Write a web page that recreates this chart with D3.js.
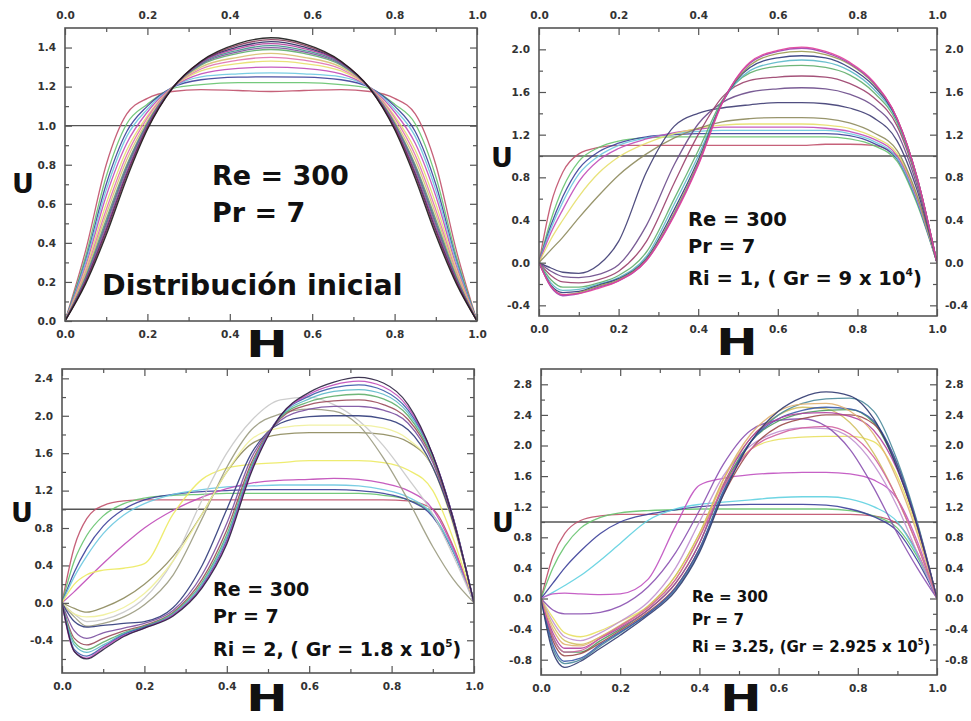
<!DOCTYPE html>
<html>
<head>
<meta charset="utf-8">
<script src="https://cdn.jsdelivr.net/npm/d3@7"></script>
<style>
  body { margin: 0; background: #fff; }
  svg { display: block; }
  .tick text { font-family: "DejaVu Sans", sans-serif; font-weight: bold; font-size: 10.5px; fill: #333; }
  .tick line { stroke: #555; stroke-width: 1.2; }
  .lbl { font-family: "DejaVu Sans", sans-serif; font-weight: bold; fill: #111; }
</style>
</head>
<body>
<div id="chart"></div>
<script>
// ---- data ----
// H positions where U was read (panel "Distribución inicial")
const hGridInitial = [0, 0.05, 0.1, 0.15, 0.2, 0.26, 0.33, 0.42, 0.5, 0.58, 0.67, 0.74, 0.8, 0.85, 0.9, 0.95, 1.0];
// H positions for the three mixed-convection panels
const hGrid = [0, 0.03, 0.06, 0.1, 0.15, 0.2, 0.27, 0.34, 0.4, 0.46, 0.53, 0.6, 0.66, 0.72, 0.78, 0.84, 0.9, 0.95, 1.0];

const uInitial = [
  [0, 0.36, 0.80, 1.06, 1.14, 1.175, 1.185, 1.18, 1.175, 1.18, 1.185, 1.175, 1.14, 1.06, 0.80, 0.36, 0],
  [0, 0.33, 0.74, 1.01, 1.11, 1.19, 1.21, 1.22, 1.22, 1.22, 1.21, 1.19, 1.11, 1.01, 0.74, 0.33, 0],
  [0, 0.31, 0.70, 0.97, 1.10, 1.195, 1.235, 1.248, 1.25, 1.248, 1.235, 1.195, 1.10, 0.97, 0.70, 0.31, 0],
  [0, 0.30, 0.67, 0.945, 1.085, 1.195, 1.25, 1.265, 1.27, 1.265, 1.25, 1.195, 1.085, 0.945, 0.67, 0.30, 0],
  [0, 0.28, 0.64, 0.91, 1.07, 1.195, 1.265, 1.293, 1.30, 1.293, 1.265, 1.195, 1.07, 0.91, 0.64, 0.28, 0],
  [0, 0.265, 0.60, 0.875, 1.05, 1.195, 1.28, 1.318, 1.33, 1.318, 1.28, 1.195, 1.05, 0.875, 0.60, 0.265, 0],
  [0, 0.25, 0.57, 0.85, 1.04, 1.195, 1.29, 1.335, 1.35, 1.335, 1.29, 1.195, 1.04, 0.85, 0.57, 0.25, 0],
  [0, 0.24, 0.545, 0.825, 1.025, 1.195, 1.30, 1.35, 1.37, 1.35, 1.30, 1.195, 1.025, 0.825, 0.545, 0.24, 0],
  [0, 0.227, 0.52, 0.80, 1.015, 1.193, 1.31, 1.37, 1.39, 1.37, 1.31, 1.193, 1.015, 0.80, 0.52, 0.227, 0],
  [0, 0.22, 0.505, 0.79, 1.01, 1.193, 1.315, 1.378, 1.40, 1.378, 1.315, 1.193, 1.01, 0.79, 0.505, 0.22, 0],
  [0, 0.215, 0.494, 0.78, 1.004, 1.192, 1.318, 1.386, 1.41, 1.386, 1.318, 1.192, 1.004, 0.78, 0.494, 0.215, 0],
  [0, 0.209, 0.48, 0.766, 0.998, 1.191, 1.322, 1.395, 1.42, 1.395, 1.322, 1.191, 0.998, 0.766, 0.48, 0.209, 0],
  [0, 0.202, 0.465, 0.753, 0.991, 1.19, 1.326, 1.403, 1.43, 1.403, 1.326, 1.19, 0.991, 0.753, 0.465, 0.202, 0],
  [0, 0.197, 0.454, 0.743, 0.986, 1.19, 1.328, 1.412, 1.44, 1.412, 1.328, 1.19, 0.986, 0.743, 0.454, 0.197, 0],
  [0, 0.19, 0.44, 0.73, 0.98, 1.19, 1.33, 1.42, 1.45, 1.42, 1.33, 1.19, 0.98, 0.73, 0.44, 0.19, 0]
];

const uRi1 = [
  [0, 0.55, 0.85, 1.02, 1.08, 1.1, 1.1, 1.1, 1.1, 1.1, 1.1, 1.1, 1.1, 1.11, 1.11, 1.1, 1.0, 0.6, 0],
  [0, 0.4, 0.7, 0.95, 1.08, 1.14, 1.17, 1.18, 1.18, 1.18, 1.18, 1.18, 1.18, 1.18, 1.16, 1.1, 0.95, 0.55, 0],
  [0, 0.35, 0.62, 0.88, 1.04, 1.12, 1.18, 1.2, 1.21, 1.21, 1.21, 1.21, 1.21, 1.21, 1.19, 1.12, 0.97, 0.57, 0],
  [0, 0.32, 0.57, 0.83, 1.0, 1.1, 1.17, 1.21, 1.23, 1.24, 1.24, 1.24, 1.24, 1.24, 1.21, 1.14, 0.98, 0.58, 0],
  [0, 0.28, 0.5, 0.76, 0.96, 1.07, 1.16, 1.22, 1.25, 1.27, 1.27, 1.27, 1.27, 1.26, 1.23, 1.16, 1.0, 0.6, 0],
  [0, 0.22, 0.4, 0.62, 0.84, 0.99, 1.12, 1.21, 1.26, 1.29, 1.3, 1.3, 1.3, 1.29, 1.26, 1.18, 1.02, 0.62, 0],
  [0, 0.12, 0.24, 0.42, 0.63, 0.82, 1.02, 1.17, 1.26, 1.32, 1.35, 1.36, 1.36, 1.35, 1.31, 1.22, 1.05, 0.63, 0],
  [0, -0.05, -0.09, -0.1, -0.02, 0.2, 0.85, 1.28, 1.4, 1.45, 1.48, 1.5, 1.5, 1.49, 1.45, 1.36, 1.14, 0.68, 0],
  [0, -0.08, -0.13, -0.14, -0.11, -0.02, 0.35, 0.92, 1.3, 1.5, 1.6, 1.63, 1.64, 1.63, 1.58, 1.47, 1.22, 0.72, 0],
  [0, -0.12, -0.18, -0.19, -0.16, -0.08, 0.2, 0.75, 1.2, 1.55, 1.71, 1.74, 1.75, 1.74, 1.68, 1.55, 1.28, 0.76, 0],
  [0, -0.16, -0.23, -0.23, -0.19, -0.12, 0.1, 0.6, 1.05, 1.52, 1.78, 1.84, 1.85, 1.83, 1.76, 1.6, 1.31, 0.78, 0],
  [0, -0.19, -0.26, -0.25, -0.2, -0.14, 0.06, 0.55, 1.0, 1.5, 1.8, 1.88, 1.9, 1.88, 1.8, 1.63, 1.33, 0.79, 0],
  [0, -0.21, -0.28, -0.27, -0.21, -0.15, 0.04, 0.5, 0.96, 1.5, 1.83, 1.92, 1.94, 1.92, 1.83, 1.66, 1.34, 0.8, 0],
  [0, -0.22, -0.3, -0.28, -0.22, -0.16, 0.03, 0.47, 0.94, 1.5, 1.85, 1.96, 1.98, 1.95, 1.86, 1.68, 1.35, 0.8, 0],
  [0, -0.23, -0.31, -0.29, -0.23, -0.17, 0.02, 0.45, 0.92, 1.5, 1.87, 1.98, 2.01, 1.97, 1.87, 1.69, 1.35, 0.8, 0],
  [0, -0.22, -0.3, -0.29, -0.24, -0.17, 0.02, 0.44, 0.91, 1.49, 1.88, 1.99, 2.02, 1.98, 1.88, 1.7, 1.35, 0.8, 0]
];

const uRi2 = [
  [0, 0.6, 0.9, 1.04, 1.09, 1.1, 1.1, 1.1, 1.1, 1.1, 1.1, 1.1, 1.1, 1.1, 1.1, 1.09, 1.0, 0.6, 0],
  [0, 0.45, 0.72, 0.93, 1.06, 1.12, 1.15, 1.16, 1.17, 1.17, 1.17, 1.17, 1.17, 1.17, 1.15, 1.1, 0.94, 0.55, 0],
  [0, 0.33, 0.58, 0.82, 1.0, 1.1, 1.16, 1.19, 1.2, 1.21, 1.21, 1.21, 1.21, 1.2, 1.17, 1.1, 0.92, 0.54, 0],
  [0, 0.28, 0.5, 0.74, 0.94, 1.06, 1.16, 1.21, 1.24, 1.25, 1.26, 1.26, 1.26, 1.25, 1.21, 1.13, 0.94, 0.55, 0],
  [0, 0.12, 0.25, 0.42, 0.62, 0.8, 0.99, 1.13, 1.22, 1.28, 1.31, 1.32, 1.33, 1.32, 1.28, 1.2, 1.0, 0.58, 0],
  [0, 0.2, 0.3, 0.35, 0.37, 0.42, 0.95, 1.32, 1.44, 1.48, 1.5, 1.52, 1.52, 1.52, 1.5, 1.42, 1.2, 0.68, 0],
  [0, -0.06, -0.1, -0.05, 0.05, 0.2, 0.5, 0.95, 1.4, 1.7, 1.8, 1.82, 1.82, 1.82, 1.8, 1.72, 1.45, 0.85, 0],
  [0, -0.12, -0.2, -0.18, -0.1, 0.05, 0.45, 1.1, 1.6, 1.95, 2.17, 2.2, 2.12, 1.95, 1.68, 1.33, 0.95, 0.5, 0],
  [0, -0.15, -0.25, -0.22, -0.15, -0.02, 0.3, 0.9, 1.45, 1.85, 2.02, 2.07, 2.05, 1.9, 1.55, 1.1, 0.6, 0.25, 0],
  [0, -0.12, -0.15, -0.13, -0.05, 0.1, 0.45, 0.95, 1.4, 1.75, 1.87, 1.9, 1.9, 1.9, 1.87, 1.75, 1.45, 0.82, 0],
  [0, -0.2, -0.26, -0.24, -0.22, -0.2, -0.05, 0.4, 1.0, 1.6, 1.92, 1.99, 2.0, 2.0, 1.97, 1.85, 1.45, 0.85, 0],
  [0, -0.3, -0.38, -0.32, -0.27, -0.22, -0.08, 0.3, 0.85, 1.55, 1.95, 2.07, 2.1, 2.1, 2.06, 1.92, 1.5, 0.87, 0],
  [0, -0.38, -0.45, -0.38, -0.3, -0.24, -0.1, 0.25, 0.78, 1.5, 1.97, 2.12, 2.16, 2.17, 2.12, 1.96, 1.53, 0.88, 0],
  [0, -0.42, -0.5, -0.42, -0.32, -0.25, -0.11, 0.22, 0.73, 1.47, 1.98, 2.15, 2.21, 2.23, 2.18, 2.0, 1.55, 0.9, 0],
  [0, -0.45, -0.53, -0.45, -0.33, -0.26, -0.12, 0.2, 0.7, 1.45, 1.99, 2.18, 2.26, 2.28, 2.23, 2.03, 1.57, 0.9, 0],
  [0, -0.5, -0.57, -0.47, -0.34, -0.26, -0.13, 0.18, 0.67, 1.43, 2.0, 2.21, 2.3, 2.33, 2.27, 2.06, 1.58, 0.9, 0],
  [0, -0.52, -0.59, -0.48, -0.35, -0.27, -0.13, 0.17, 0.65, 1.42, 2.0, 2.23, 2.33, 2.37, 2.31, 2.09, 1.58, 0.9, 0],
  [0, -0.52, -0.6, -0.5, -0.36, -0.27, -0.14, 0.16, 0.63, 1.4, 2.0, 2.25, 2.36, 2.41, 2.35, 2.12, 1.58, 0.89, 0]
];

const uRi325 = [
  [0, 0.55, 0.85, 1.02, 1.08, 1.1, 1.1, 1.1, 1.1, 1.1, 1.1, 1.1, 1.1, 1.1, 1.1, 1.08, 0.98, 0.6, 0],
  [0, 0.4, 0.68, 0.92, 1.06, 1.12, 1.15, 1.16, 1.17, 1.17, 1.17, 1.17, 1.17, 1.17, 1.15, 1.08, 0.92, 0.55, 0],
  [0, 0.2, 0.4, 0.62, 0.85, 1.0, 1.1, 1.16, 1.2, 1.22, 1.23, 1.23, 1.23, 1.22, 1.17, 1.07, 0.88, 0.5, 0],
  [0, 0.08, 0.17, 0.3, 0.5, 0.72, 1.02, 1.17, 1.23, 1.26, 1.29, 1.32, 1.33, 1.33, 1.3, 1.2, 1.0, 0.58, 0],
  [0, 0.06, 0.07, 0.06, 0.05, 0.06, 0.25, 0.95, 1.48, 1.57, 1.62, 1.64, 1.65, 1.65, 1.63, 1.55, 1.3, 0.75, 0],
  [0, -0.25, -0.45, -0.5, -0.42, -0.3, -0.1, 0.3, 0.85, 1.5, 1.95, 2.08, 2.11, 2.12, 2.12, 2.05, 1.6, 0.9, 0],
  [0, -0.3, -0.5, -0.55, -0.45, -0.3, -0.05, 0.4, 1.0, 1.6, 2.0, 2.18, 2.23, 2.22, 2.1, 1.75, 1.2, 0.6, 0],
  [0, -0.15, -0.2, -0.2, -0.18, -0.1, 0.15, 0.6, 1.15, 1.75, 2.2, 2.33, 2.35, 2.25, 1.95, 1.45, 0.85, 0.4, 0],
  [0, -0.35, -0.55, -0.6, -0.5, -0.35, -0.1, 0.3, 0.85, 1.55, 2.1, 2.4, 2.5, 2.48, 2.3, 1.9, 1.3, 0.7, 0],
  [0, -0.5, -0.7, -0.7, -0.55, -0.4, -0.15, 0.2, 0.72, 1.45, 2.05, 2.32, 2.42, 2.46, 2.47, 2.3, 1.7, 0.95, 0],
  [0, -0.55, -0.75, -0.72, -0.58, -0.42, -0.18, 0.15, 0.65, 1.35, 1.95, 2.25, 2.35, 2.4, 2.4, 2.28, 1.75, 0.98, 0],
  [0, -0.65, -0.85, -0.8, -0.62, -0.45, -0.2, 0.12, 0.62, 1.38, 2.05, 2.4, 2.55, 2.61, 2.62, 2.45, 1.8, 1.0, 0],
  [0, -0.6, -0.82, -0.78, -0.6, -0.44, -0.2, 0.14, 0.65, 1.4, 2.05, 2.35, 2.46, 2.5, 2.48, 2.32, 1.75, 0.97, 0],
  [0, -0.45, -0.65, -0.65, -0.52, -0.38, -0.15, 0.2, 0.72, 1.48, 2.1, 2.35, 2.42, 2.43, 2.38, 2.2, 1.68, 0.95, 0],
  [0, -0.4, -0.6, -0.62, -0.5, -0.36, -0.12, 0.25, 0.8, 1.55, 2.15, 2.45, 2.54, 2.55, 2.45, 2.15, 1.55, 0.85, 0],
  [0, -0.5, -0.7, -0.68, -0.52, -0.36, -0.12, 0.25, 0.8, 1.45, 1.95, 2.15, 2.23, 2.25, 2.15, 1.85, 1.3, 0.7, 0],
  [0, -0.7, -0.9, -0.82, -0.65, -0.48, -0.22, 0.1, 0.6, 1.35, 2.05, 2.45, 2.63, 2.7, 2.65, 2.35, 1.7, 0.95, 0]
];

const hTicks = [0, 0.2, 0.4, 0.6, 0.8, 1.0];
const hMinor = [0.1, 0.3, 0.5, 0.7, 0.9];
const uTicksInitial = [0, 0.2, 0.4, 0.6, 0.8, 1.0, 1.2, 1.4];
const uMinorInitial = [0.1, 0.3, 0.5, 0.7, 0.9, 1.1, 1.3];
const uTicksRi1 = [-0.4, 0, 0.4, 0.8, 1.2, 1.6, 2.0];
const uMinorRi1 = [-0.2, 0.2, 0.6, 1.0, 1.4, 1.8];
const uTicksRi2 = [-0.4, 0, 0.4, 0.8, 1.2, 1.6, 2.0, 2.4];
const uMinorRi2 = [-0.6, -0.2, 0.2, 0.6, 1.0, 1.4, 1.8, 2.2];
const uTicksRi325 = [-0.8, -0.4, 0, 0.4, 0.8, 1.2, 1.6, 2.0, 2.4, 2.8];
const uMinorRi325 = [-0.6, -0.2, 0.2, 0.6, 1.0, 1.4, 1.8, 2.2, 2.6];

const colorsInitial = ["#c0506a", "#66c36e", "#3b3f99", "#6cc8e0", "#c04ab8", "#e6df6a", "#e070b0", "#d8c070",
  "#5fae6a", "#7a4fa0", "#3f8f8a", "#b03a9a", "#2a2a60", "#8a3a5a", "#1a1a1a"];
const colorsRi1 = ["#c0506a", "#66c36e", "#3b3f99", "#6cc8e0", "#c04ab8", "#e6df6a", "#8d8a5c", "#3d3b72",
  "#6a4a8a", "#9a3f6a", "#5fae6a", "#5ab8c8", "#2f3a7a", "#9a9a50", "#a040b0", "#e0409a"];
const colorsRi2 = ["#c0506a", "#66c36e", "#3b3f99", "#6cc8e0", "#c04ab8", "#ecea60", "#8d8a5c", "#c8c8c8",
  "#9a9a80", "#f0ef9a", "#2f3a7a", "#7a4fa0", "#9a4a5a", "#5fae6a", "#5ab8c8", "#3a5aa8", "#c04ab8", "#2a2040"];
const colorsRi325 = ["#c0506a", "#66c36e", "#3b3f99", "#5fd0e0", "#c050c0", "#e8e060", "#c090d0", "#8a50b0",
  "#d0c060", "#4a9a5a", "#9a4a4a", "#4a8a9a", "#3a5aa8", "#b040a0", "#e0b070", "#d060a0", "#303870"];

// ---- drawing ----
const svg = d3.select("#chart").append("svg")
  .attr("width", 971)
  .attr("height", 721)

const panels = [
  { box: [65, 477, 28, 321], yDom: [0, 1.5], grid: hGridInitial, curves: uInitial, colors: colorsInitial,
    yTicks: uTicksInitial, yMinor: uMinorInitial, top: true, right: false,
    uPos: [23, 193], hPos: [267, 357],
    notes: [[212, 185, 27, "Re = 300"], [212, 222, 27, "Pr = 7"], [102, 295, 28.5, "Distribución inicial"]] },
  { box: [539, 937, 28, 316], yDom: [-0.5, 2.2], grid: hGrid, curves: uRi1, colors: colorsRi1,
    yTicks: uTicksRi1, yMinor: uMinorRi1, top: true, right: true,
    uPos: [502, 167], hPos: [737, 355],
    notes: [[688, 226, 19.5, "Re = 300"], [688, 253, 19.5, "Pr = 7"], [688, 285, 19.5, "Ri = 1, ( Gr = 9 x 10", "4", ")"]] },
  { box: [62, 474, 369, 673], yDom: [-0.75, 2.5], grid: hGrid, curves: uRi2, colors: colorsRi2,
    yTicks: uTicksRi2, yMinor: uMinorRi2, top: false, right: false,
    uPos: [22, 522], hPos: [267, 711],
    notes: [[213, 596, 19, "Re = 300"], [213, 623, 19, "Pr = 7"], [213, 656, 19, "Ri = 2, ( Gr = 1.8 x 10", "5", ")"]] },
  { box: [541, 937, 369, 675], yDom: [-1.0, 3.0], grid: hGrid, curves: uRi325, colors: colorsRi325,
    yTicks: uTicksRi325, yMinor: uMinorRi325, top: false, right: true,
    uPos: [503, 532], hPos: [741, 711],
    notes: [[692, 602, 15, "Re = 300"], [692, 625, 15, "Pr = 7"], [692, 652, 15, "Ri = 3.25, (Gr = 2.925 x 10", "5", ")"]] }
];

const fmt = d => d.toFixed(1);

panels.forEach((p, i) => {
  const [x0, x1, y0, y1] = p.box;
  const x = d3.scaleLinear().domain([0, 1]).range([x0, x1]);
  const y = d3.scaleLinear().domain(p.yDom).range([y1, y0]);
  const g = svg.append("g");

  g.append("clipPath").attr("id", "clip" + i)
    .append("rect").attr("x", x0).attr("y", y0).attr("width", x1 - x0).attr("height", y1 - y0);

  // reference line U = 1
  g.append("line")
    .attr("x1", x0).attr("x2", x1)
    .attr("y1", y(1)).attr("y2", y(1))
    .attr("stroke", "#555").attr("stroke-width", 1.4);

  const line = d3.line()
    .x((d, k) => x(p.grid[k]))
    .y(d => y(d))
    .curve(d3.curveMonotoneX);

  g.append("g").attr("clip-path", `url(#clip${i})`)
    .selectAll("path")
    .data(p.curves)
    .enter().append("path")
    .attr("d", line)
    .attr("fill", "none")
    .attr("stroke", (d, k) => p.colors[k % p.colors.length])
    .attr("stroke-width", 1.3)
    .attr("stroke-opacity", 0.9);

  // axes, ticks pointing inward; minor ticks drawn as a second axis
  const axes = [
    [d3.axisBottom, `translate(0,${y1})`, x, hTicks, hMinor, true, 10],
    [d3.axisTop, `translate(0,${y0})`, x, hTicks, hMinor, p.top, 9],
    [d3.axisLeft, `translate(${x0},0)`, y, p.yTicks, p.yMinor, true, 9],
    [d3.axisRight, `translate(${x1},0)`, y, p.yTicks, p.yMinor, p.right, 8]
  ];
  axes.forEach(([axisFn, tr, scale, major, minor, showLabels, pad]) => {
    const a = g.append("g").attr("transform", tr)
      .call(axisFn(scale).tickValues(major).tickSize(-7).tickPadding(pad).tickFormat(showLabels ? fmt : ""));
    a.select(".domain").remove();
    const b = g.append("g").attr("transform", tr)
      .call(axisFn(scale).tickValues(minor).tickSize(-4).tickFormat(""));
    b.select(".domain").remove();
  });

  // frame
  g.append("rect")
    .attr("x", x0).attr("y", y0)
    .attr("width", x1 - x0).attr("height", y1 - y0)
    .attr("fill", "none").attr("stroke", "#555").attr("stroke-width", 1.6);

  // axis titles
  g.append("text").attr("class", "lbl")
    .attr("x", p.uPos[0]).attr("y", p.uPos[1])
    .attr("text-anchor", "middle").attr("font-size", 27)
    .text("U");
  g.append("text").attr("class", "lbl")
    .attr("transform", `translate(${p.hPos[0]},${p.hPos[1]}) scale(1.3,1)`)
    .attr("text-anchor", "middle").attr("font-size", 38)
    .text("H");

  // annotations
  p.notes.forEach(n => {
    const t = g.append("text").attr("class", "lbl")
      .attr("x", n[0]).attr("y", n[1]).attr("font-size", n[2]);
    t.append("tspan").text(n[3]);
    if (n[4]) {
      t.append("tspan").attr("font-size", n[2] * 0.55).attr("dy", -n[2] * 0.45).text(n[4]);
      t.append("tspan").attr("dy", n[2] * 0.45).text(n[5]);
    }
  });
});
</script>
</body>
</html>
